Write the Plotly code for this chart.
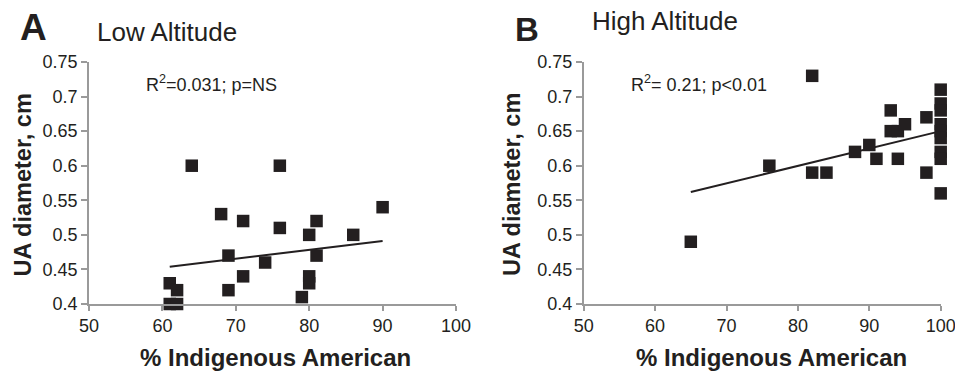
import plotly.graph_objects as go

# ---- data ----
low_x = [64, 76, 68, 71, 76, 80, 81, 86, 90, 69, 74, 81, 71, 80, 80, 69, 79, 61, 62, 61, 62]
low_y = [0.60, 0.60, 0.53, 0.52, 0.51, 0.50, 0.52, 0.50, 0.54, 0.47, 0.46, 0.47, 0.44, 0.44, 0.43, 0.42, 0.41, 0.43, 0.42, 0.40, 0.40]

high_x = [65, 82, 76, 82, 84, 88, 90, 91, 93, 93, 94, 95, 94, 98, 98,
          100, 100, 100, 100, 100, 100, 100, 100, 100]
high_y = [0.49, 0.73, 0.60, 0.59, 0.59, 0.62, 0.63, 0.61, 0.68, 0.65, 0.65, 0.66, 0.61, 0.67, 0.59,
          0.71, 0.69, 0.68, 0.66, 0.65, 0.64, 0.62, 0.61, 0.56]

low_fit_x = [61, 90]
low_fit_y = [0.454, 0.491]
high_fit_x = [65, 100]
high_fit_y = [0.562, 0.650]

x_ticks = [50, 60, 70, 80, 90, 100]
y_ticks = [0.4, 0.45, 0.5, 0.55, 0.6, 0.65, 0.7, 0.75]
y_tick_text = ["0.4", "0.45", "0.5", "0.55", "0.6", "0.65", "0.7", "0.75"]

W, H = 955, 371
def px(x):
    return x / W
def py(y):
    return 1 - y / H

INK = "#231f20"
AXIS = "#9a9a9a"
FONT = "Liberation Sans, Arial, sans-serif"

fig = go.Figure()
for xs, ys, fx, fy, xa, ya in [
    (low_x, low_y, low_fit_x, low_fit_y, "x", "y"),
    (high_x, high_y, high_fit_x, high_fit_y, "x2", "y2"),
]:
    fig.add_trace(go.Scatter(x=fx, y=fy, mode="lines", line=dict(color=INK, width=2),
                             xaxis=xa, yaxis=ya, showlegend=False, hoverinfo="skip"))
    fig.add_trace(go.Scatter(x=xs, y=ys, mode="markers",
                             marker=dict(symbol="square", size=12.5, color=INK, line=dict(width=0)),
                             xaxis=xa, yaxis=ya, showlegend=False, cliponaxis=False))

xax = dict(range=[50, 100], tickvals=x_ticks, showgrid=False, zeroline=False, automargin=False,
           ticklabeloverflow="allow",
           showline=True, linecolor=AXIS, linewidth=1.5, ticks="outside", ticklen=5,
           tickcolor=AXIS, tickwidth=1.5, tickfont=dict(family=FONT, size=18, color=INK))
yax = dict(range=[0.4, 0.75], tickvals=y_ticks, ticktext=y_tick_text, showgrid=False, zeroline=False,
           automargin=False, ticklabeloverflow="allow",
           showline=True, linecolor=AXIS, linewidth=1.5, ticks="outside", ticklen=6,
           tickcolor=AXIS, tickwidth=1.5, tickfont=dict(family=FONT, size=18, color=INK))

fig.update_layout(
    width=W, height=H, margin=dict(l=0, r=0, t=0, b=0, pad=0),
    paper_bgcolor="white", plot_bgcolor="white",
    xaxis=dict(xax, domain=[px(89), px(456)], anchor="y"),
    yaxis=dict(yax, domain=[py(304), py(62)], anchor="x"),
    xaxis2=dict(xax, domain=[px(583.7), px(940.7)], anchor="y2"),
    yaxis2=dict(yax, domain=[py(304), py(62)], anchor="x2"),
)

ann = []
def add(text, x, y, size, bold=False, xanchor="left", angle=0):
    t = f"<b>{text}</b>" if bold else text
    ann.append(dict(text=t, x=px(x), y=py(y), xref="paper", yref="paper", showarrow=False,
                    xanchor=xanchor, yanchor="middle", textangle=angle,
                    font=dict(family=FONT, size=size, color=INK)))

add("A", 18, 27, 37, bold=True)
add("Low Altitude", 95, 32, 26)
add("B", 513, 29.5, 33, bold=True)
add("High Altitude", 590, 21, 26)
add("R<sup>2</sup>=0.031; p=NS", 144, 84, 18)
add("R<sup>2</sup>= 0.21; p<0.01", 629, 84, 18)
add("UA diameter, cm", 22.5, 185, 23.5, bold=True, xanchor="center", angle=-90)
add("UA diameter, cm", 512, 185, 23.5, bold=True, xanchor="center", angle=-90)
add("% Indigenous American", 275, 357, 24, bold=True, xanchor="center")
add("% Indigenous American", 771, 357, 24, bold=True, xanchor="center")
fig.update_layout(annotations=ann)

fig.write_html("out.html", config={"displayModeBar": False},
               post_script="document.body.style.margin='0';document.body.style.overflow='hidden';")
